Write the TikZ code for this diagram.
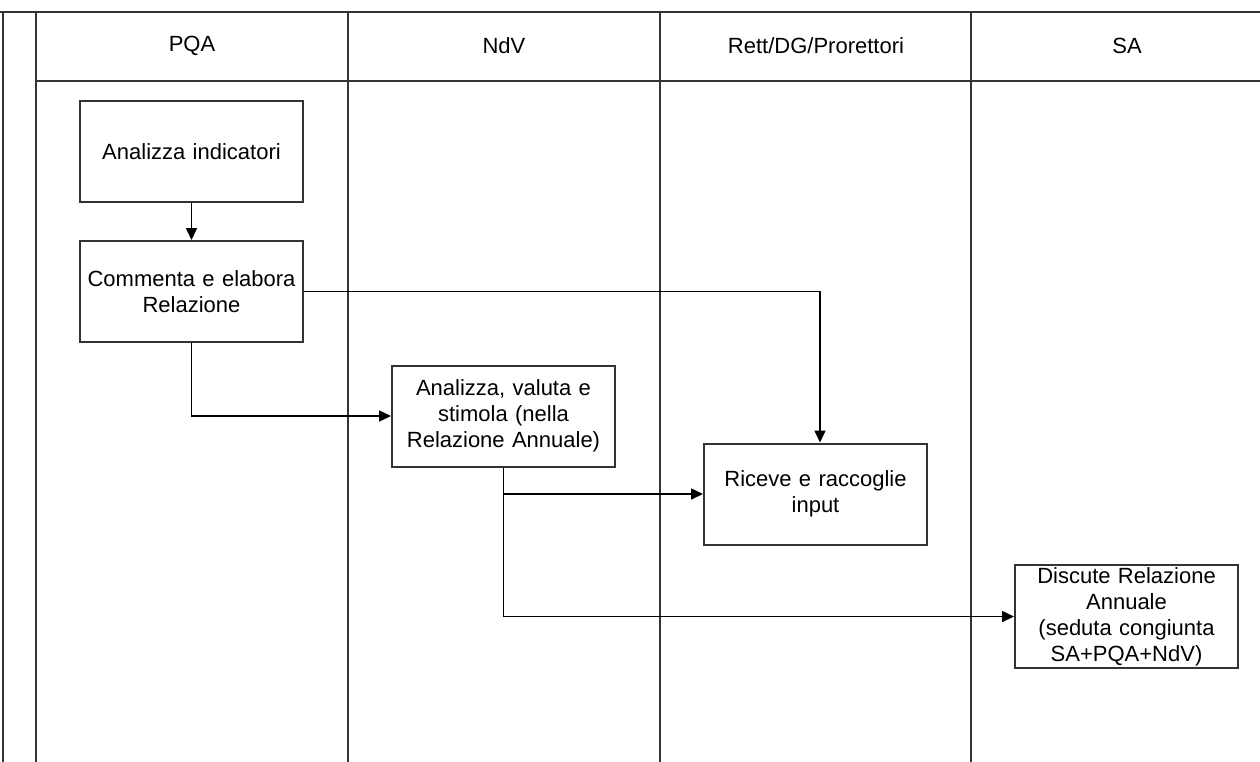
\documentclass[tikz,border=0pt]{standalone}
\usepackage{fontspec}
\setmainfont{Liberation Sans}
\usetikzlibrary{arrows.meta,positioning}
\begin{document}
\begin{tikzpicture}[x=1pt,y=-1pt,
  lane/.style={draw=black!80,line width=2pt},
  procbox/.style={draw=black!80,line width=2pt,fill=white,minimum width=223pt,minimum height=101pt,inner sep=2pt,align=center,font=\fontsize{22}{26}\selectfont,text width=219pt},
  hdr/.style={font=\fontsize{22}{26}\selectfont},
  flow/.style={draw=black,line width=1.6pt,-{Triangle[length=12pt,width=11pt]}}]
\useasboundingbox (0,0) rectangle (1260,761);
% swimlane grid
\draw[lane] (0,11.5) -- (1262,11.5);
\draw[lane] (36,81) -- (1262,81);
\draw[lane] (2.5,11.5) -- (2.5,763);
\draw[lane] (36,11.5) -- (36,763);
\draw[lane] (348,11.5) -- (348,763);
\draw[lane] (660,11.5) -- (660,763);
\draw[lane] (971,11.5) -- (971,763);
% headers
\node[hdr] (h1) at (192,46) {PQA};
\node[hdr] (h2) at (504,46) {NdV};
\node[hdr] (h3) at (816,46) {Rett/DG/Prorettori};
\node[hdr] (h4) at (1127,46) {SA};
% boxes
\node[procbox] (a) at (191.5,151.5) {Analizza indicatori};
\node[procbox] (b) at (191.5,291.5) {Commenta e elabora\\Relazione};
\node[procbox] (c) at (503.5,416) {Analizza, valuta e\\stimola (nella\\Relazione Annuale)};
\node[procbox] (d) at (815.5,494) {Riceve e raccoglie\\input};
\node[procbox] (e) at (1126.5,616.5) {Discute Relazione\\Annuale\\(seduta congiunta\\SA+PQA+NdV)};
% connectors
\draw[flow] (a) -- (b);
\draw[flow] (b.east) -| ([xshift=4.5pt]d.north);
\draw[flow] (b.south) |- (c.west);
\coordinate (j) at (c.south |- d.west);
\draw[flow] (c.south) |- (d.west);
\draw[flow] (j) |- (e.west);
\end{tikzpicture}
\end{document}
